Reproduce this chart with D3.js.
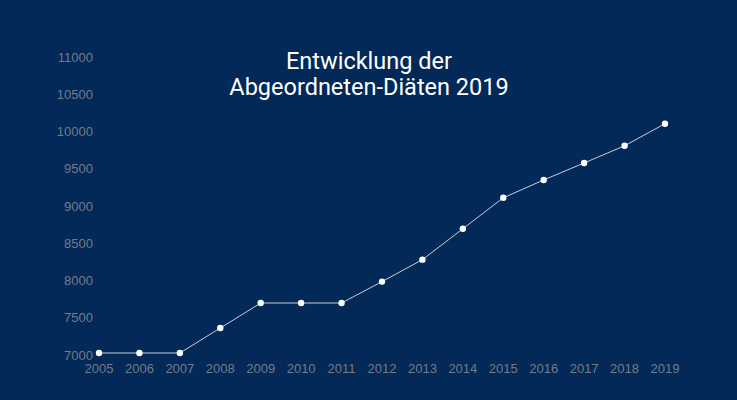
<!DOCTYPE html>
<html><head><meta charset="utf-8">
<script src="https://cdn.jsdelivr.net/npm/d3@7"></script>
<style>
body{margin:0;background:#022957;}
text{font-family:Roboto,"Noto Sans",sans-serif;}
.tick{font-family:"Liberation Sans",Arial,sans-serif;}
</style></head>
<body><svg id="c" width="737" height="400"></svg>
<script>
var years = [2005,2006,2007,2008,2009,2010,2011,2012,2013,2014,2015,2016,2017,2018,2019];
var values = [7027,7027,7027,7362,7698,7698,7698,7985,8280,8695,9110,9350,9578,9808,10105];
var yTicks = [7000,7500,8000,8500,9000,9500,10000,10500,11000];
var titleLines = ['Entwicklung der','Abgeordneten-Diäten 2019'];

var svg = d3.select('#c');
svg.append('rect').attr('width',737).attr('height',400).attr('fill','#022957');

var x = d3.scaleLinear().domain([2005,2019]).range([99,665]);
var y = d3.scaleLinear().domain([7000,11000]).range([355,57]);

svg.selectAll('.yl').data(yTicks).enter().append('text')
    .attr('class','tick')
    .attr('x',93).attr('y',function (d) { return y(d); })
    .attr('dy','0.35em').attr('text-anchor','end')
    .attr('font-size',13).attr('fill','#747b89')
    .text(function (d) { return d; });

svg.selectAll('.xl').data(years).enter().append('text')
    .attr('class','tick')
    .attr('x',function (d) { return x(d); }).attr('y',373)
    .attr('text-anchor','middle')
    .attr('font-size',13).attr('fill','#747b89')
    .text(function (d) { return d; });

var line = d3.line()
    .x(function (d, i) { return x(years[i]); })
    .y(function (d) { return y(d); });

svg.append('path').datum(values).attr('d',line)
    .attr('fill','none').attr('stroke','#c9ced8').attr('stroke-width',1);

svg.selectAll('.pt').data(values).enter().append('circle')
    .attr('cx',function (d, i) { return x(years[i]); })
    .attr('cy',function (d) { return y(d); })
    .attr('r',3.2).attr('fill','#fff');

svg.selectAll('.t').data(titleLines).enter().append('text')
    .attr('x',369).attr('y',function (d, i) { return 69 + i * 26; })
    .attr('text-anchor','middle').attr('font-size',23.5).attr('fill','#fff')
    .text(function (d) { return d; });
</script></body></html>
